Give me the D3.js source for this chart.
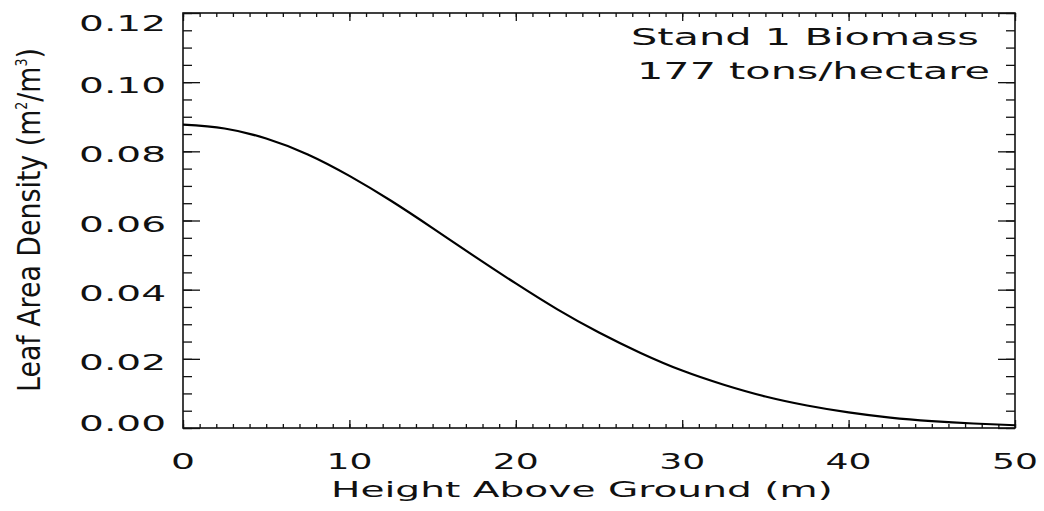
<!DOCTYPE html>
<html>
<head>
<meta charset="utf-8">
<script src="https://cdn.jsdelivr.net/npm/d3@7"></script>
<style>
  body { margin: 0; background: #fff; }
  svg { display: block; }
</style>
</head>
<body>
<div id="chart"></div>
<script>
// Leaf area density profile
var heights = [0, 2.5, 5, 7.5, 10, 12.5, 15, 17.5, 20, 22.5, 25, 27.5, 30, 32.5, 35, 37.5, 40, 42.5, 45, 47.5, 50];
var density = [0.0877, 0.0866, 0.0837, 0.0791, 0.0729, 0.0657, 0.0578, 0.0497, 0.0418, 0.0343, 0.0276,
  0.0217, 0.0166, 0.0125, 0.0091, 0.0065, 0.0045, 0.0030, 0.0020, 0.0013, 0.0008];

var xTicks = [0, 10, 20, 30, 40, 50];
var yTicks = [0, 0.02, 0.04, 0.06, 0.08, 0.10, 0.12];
var yTickLabels = ['0.00', '0.02', '0.04', '0.06', '0.08', '0.10', '0.12'];
var annotation = ['Stand 1 Biomass', '177 tons/hectare'];
var xTitle = 'Height Above Ground (m)';

var W = 1044, H = 511;
var plot = { left: 183, right: 1015, top: 13, bottom: 428 };
var ink = '#111';
var font = '"DejaVu Sans", "Liberation Sans", sans-serif';
var narrowFont = '"Liberation Sans Narrow", "DejaVu Sans Condensed", "DejaVu Sans", sans-serif';

var x = d3.scaleLinear().domain([0, 50]).range([plot.left, plot.right]);
var y = d3.scaleLinear().domain([0, 0.12]).range([plot.bottom, plot.top]);

var svg = d3.select('#chart').append('svg').attr('width', W).attr('height', H);

// Put a text at (px, py) and stretch it horizontally so it spans `width` pixels
function fitText(parent, px, py, opts) {
  var outer = parent.append('g')
    .attr('transform', 'translate(' + px + ',' + py + ')' + (opts.rotate ? ' rotate(' + opts.rotate + ')' : ''));
  var inner = outer.append('g');
  var t = inner.append('text')
    .attr('font-family', opts.family || font)
    .attr('font-size', opts.size)
    .attr('fill', ink)
    .attr('text-anchor', opts.anchor || 'start');
  if (opts.build) opts.build(t); else t.text(opts.text);
  var len = t.node().getComputedTextLength();
  if (opts.width && len > 0) inner.attr('transform', 'scale(' + (opts.width / len) + ',1)');
  return t;
}

// Minor / major ticks, all pointing into the plot
var xMinor = d3.range(0, 51, 1);
var yMinor = d3.range(0, 0.1201, 0.005);

var axes = svg.append('g').attr('class', 'axes').attr('color', ink);

function tickAxis(axisFn, scale, values, size, transform) {
  axes.append('g')
    .attr('transform', transform)
    .call(axisFn(scale).tickValues(values).tickSize(size).tickSizeOuter(0).tickFormat(''))
    .call(function (g) { g.select('.domain').remove(); })
    .selectAll('line').attr('stroke-width', 1.3);
}

tickAxis(d3.axisTop, x, xMinor, 4, 'translate(0,' + plot.bottom + ')');
tickAxis(d3.axisTop, x, xTicks, 8, 'translate(0,' + plot.bottom + ')');
tickAxis(d3.axisBottom, x, xMinor, 4, 'translate(0,' + plot.top + ')');
tickAxis(d3.axisBottom, x, xTicks, 8, 'translate(0,' + plot.top + ')');
tickAxis(d3.axisRight, y, yMinor, 9, 'translate(' + plot.left + ',0)');
tickAxis(d3.axisRight, y, yTicks, 17, 'translate(' + plot.left + ',0)');
tickAxis(d3.axisLeft, y, yMinor, 9, 'translate(' + plot.right + ',0)');
tickAxis(d3.axisLeft, y, yTicks, 17, 'translate(' + plot.right + ',0)');

axes.append('rect')
  .attr('x', plot.left).attr('y', plot.top)
  .attr('width', plot.right - plot.left).attr('height', plot.bottom - plot.top)
  .attr('fill', 'none').attr('stroke', ink).attr('stroke-width', 1.6);

// Curve
var line = d3.line()
  .x(function (d, i) { return x(heights[i]); })
  .y(function (d) { return y(d); })
  .curve(d3.curveNatural);

svg.append('path')
  .datum(density)
  .attr('d', line)
  .attr('fill', 'none')
  .attr('stroke', '#000')
  .attr('stroke-width', 2.2);

// Tick labels
var labels = svg.append('g').attr('class', 'labels');
xTicks.forEach(function (v) {
  var s = String(v);
  fitText(labels, x(v), 469, { text: s, size: 22, anchor: 'middle', width: 22 * s.length + 2 });
});
yTicks.forEach(function (v, i) {
  var c = Math.min(Math.max(y(v) + 3, plot.top + 10), plot.bottom - 5);
  fitText(labels, 166, c + 8, { text: yTickLabels[i], size: 22, anchor: 'end', width: 87 });
});

// Axis titles
fitText(labels, 331, 497, { text: xTitle, size: 21, width: 502 });
fitText(labels, 40, 392, {
  rotate: -90, size: 32, family: narrowFont, width: 344,
  build: function (t) {
    t.append('tspan').text('Leaf Area Density (m');
    t.append('tspan').attr('font-size', 15).attr('dy', -13).text('2');
    t.append('tspan').attr('dy', 13).text('/m');
    t.append('tspan').attr('font-size', 15).attr('dy', -13).text('3');
    t.append('tspan').attr('dy', 13).text(')');
  }
});

// Annotation
fitText(labels, 631, 45, { text: annotation[0], size: 23, width: 348 });
fitText(labels, 637, 79, { text: annotation[1], size: 23, width: 353 });
</script>
</body>
</html>
